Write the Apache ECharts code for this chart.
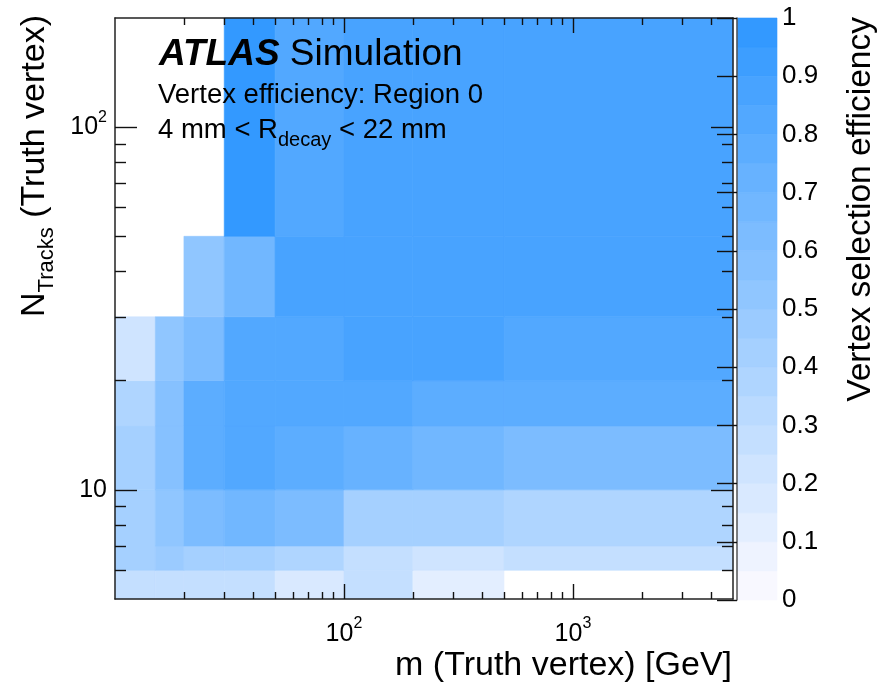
<!DOCTYPE html>
<html>
<head>
<meta charset="utf-8">
<title>Vertex selection efficiency</title>
<script src="https://cdn.jsdelivr.net/npm/echarts@6.0.0/dist/echarts.min.js"></script>
<style>
  html, body { margin: 0; padding: 0; background: #fff; }
  #main { width: 881px; height: 689px; }
</style>
</head>
<body>
<div id="main"></div>
<script>
// bin edges of the histogram
var massEdges = [10, 15, 20, 30, 50, 100, 200, 500, 5000];
var trackEdges = [5, 6, 7, 10, 15, 20, 30, 50, 200];

// efficiency per N_tracks bin (bottom to top), one value per mass bin, null = empty bin
var eff_5_6    = [0.275, 0.275, 0.275, 0.275, 0.175, 0.275, 0.125, null];
var eff_6_7    = [0.425, 0.475, 0.425, 0.425, 0.375, 0.275, 0.225, 0.275];
var eff_7_10   = [0.425, 0.525, 0.625, 0.675, 0.625, 0.425, 0.425, 0.375];
var eff_10_15  = [0.425, 0.575, 0.775, 0.825, 0.775, 0.725, 0.675, 0.625];
var eff_15_20  = [0.375, 0.575, 0.775, 0.825, 0.825, 0.825, 0.775, 0.775];
var eff_20_30  = [0.225, 0.525, 0.625, 0.825, 0.825, 0.875, 0.875, 0.825];
var eff_30_50  = [null, null, 0.525, 0.675, 0.875, 0.875, 0.875, 0.875];
var eff_50_200 = [null, null, null, 0.975, 0.825, 0.875, 0.875, 0.875];
var effRows = [eff_5_6, eff_6_7, eff_7_10, eff_10_15, eff_15_20, eff_20_30, eff_30_50, eff_50_200];

// axis ticks
var massMajorTicks = [100, 1000];
var massMinorTicks = [20, 30, 40, 50, 60, 70, 80, 90, 200, 300, 400, 500, 600, 700, 800, 900, 2000, 3000, 4000];
var trackMajorTicks = [10, 100];
var trackMinorTicks = [6, 7, 8, 9, 20, 30, 40, 50, 60, 70, 80, 90];

// colour levels of the palette (z axis)
var colorLevels = [0, 0.05, 0.1, 0.15, 0.2, 0.25, 0.3, 0.35, 0.4, 0.45, 0.5,
                   0.55, 0.6, 0.65, 0.7, 0.75, 0.8, 0.85, 0.9, 0.95, 1];

var fontName = 'Liberation Sans';

var cells = [];
for (var j = 0; j < effRows.length; j++) {
	for (var i = 0; i < effRows[j].length; i++) {
		if (effRows[j][i] === null) continue;
		cells.push([massEdges[i], trackEdges[j], massEdges[i + 1], trackEdges[j + 1], effRows[j][i]]);
	}
}

var bands = [];
var pieces = [];
for (var k = 0; k < colorLevels.length - 1; k++) {
	var lo = colorLevels[k], hi = colorLevels[k + 1];
	bands.push([0, lo, 1, hi, (lo + hi) / 2]);
	if (k === colorLevels.length - 2) {
		pieces.push({ gte: lo, lte: hi });
	} else {
		pieces.push({ gte: lo, lt: hi });
	}
}

var renderBox = function(params, api) {
	var p0 = api.coord([api.value(0), api.value(1)]);
	var p1 = api.coord([api.value(2), api.value(3)]);
	var c = api.visual('color');
	return {
		type: 'rect',
		shape: { x: p0[0], y: p1[1], width: p1[0] - p0[0], height: p0[1] - p1[1] },
		style: { fill: c, stroke: c, lineWidth: 0.6 }
	};
};

var powLabel = function(v) {
	var e = Math.round(Math.log10(v));
	return e === 1 ? '10' : '10{sup|' + e + '}';
};

var frameLine = { show: true, onZero: false, lineStyle: { color: '#222', width: 1.5 } };
var tickLine = { color: '#111', width: 1.4 };
var labelStyle = {
	fontFamily: fontName, fontSize: 25, color: '#000', lineHeight: 36,
	formatter: powLabel,
	rich: { sup: { fontFamily: fontName, fontSize: 16, lineHeight: 22, verticalAlign: 'top', color: '#000' } }
};

// one axis per tick set: ROOT style major + minor ticks on all four sides
var logAxis = function(pos, ticks, len, withLine, withLabels, min, max, margin) {
	var axis = {
		type: 'log', logBase: 10, gridIndex: 0, position: pos, min: min, max: max, z: 10,
		axisLine: withLine ? frameLine : { show: false },
		axisTick: { show: true, inside: true, length: len, customValues: ticks, lineStyle: tickLine },
		axisLabel: { show: false },
		splitLine: { show: false },
		minorTick: { show: false },
		minorSplitLine: { show: false }
	};
	if (withLabels) {
		axis.axisLabel = Object.assign({ show: true, margin: margin, customValues: ticks }, labelStyle);
	}
	return axis;
};

var myChart = echarts.init(document.getElementById('main'), null, { renderer: 'canvas' });

var option = {
	backgroundColor: '#fff',
	animation: false,
	grid: [
		{ left: 115, top: 18, width: 618, height: 581, outerBoundsMode: 'none', containLabel: false },
		{ left: 737, top: 18, width: 40, height: 582, outerBoundsMode: 'none', containLabel: false }
	],
	xAxis: [
		logAxis('bottom', massMajorTicks, 15, true, true, 10, 5000, 17),
		logAxis('bottom', massMinorTicks, 7, false, false, 10, 5000),
		logAxis('top', massMajorTicks, 15, true, false, 10, 5000),
		logAxis('top', massMinorTicks, 7, false, false, 10, 5000),
		{ type: 'value', gridIndex: 1, min: 0, max: 1, show: false }
	],
	yAxis: [
		logAxis('left', trackMajorTicks, 22, true, true, 5, 200, 8),
		logAxis('left', trackMinorTicks, 11, false, false, 5, 200),
		logAxis('right', trackMajorTicks, 22, true, false, 5, 200),
		logAxis('right', trackMinorTicks, 11, false, false, 5, 200),
		{
			type: 'value', gridIndex: 1, position: 'right', min: 0, max: 1, interval: 0.1, z: 10,
			axisLine: { show: true, lineStyle: { color: '#555', width: 1.5 } },
			axisTick: { show: true, inside: true, length: 20, lineStyle: tickLine },
			axisLabel: { show: true, margin: 5, fontFamily: fontName, fontSize: 26, color: '#000',
				showMinLabel: true, showMaxLabel: true },
			splitLine: { show: false }
		}
	],
	visualMap: {
		type: 'piecewise',
		show: false,
		dimension: 4,
		seriesIndex: [0, 1],
		pieces: pieces,
		inRange: { color: ['#f8f8ff', '#3399ff'] }
	},
	series: [
		{
			type: 'custom',
			name: 'efficiency',
			xAxisIndex: 0,
			yAxisIndex: 0,
			encode: { x: [0, 2], y: [1, 3] },
			renderItem: renderBox,
			data: cells,
			z: 1
		},
		{
			type: 'custom',
			name: 'palette',
			xAxisIndex: 4,
			yAxisIndex: 4,
			encode: { x: [0, 2], y: [1, 3] },
			renderItem: renderBox,
			data: bands,
			z: 1
		}
	],
	graphic: [
		{
			type: 'text', x: 159, y: 54.5, z: 100,
			style: {
				text: '{a|ATLAS} Simulation',
				fontFamily: fontName, fontSize: 37, fill: '#000',
				align: 'left', verticalAlign: 'middle',
				rich: { a: { fontFamily: fontName, fontSize: 37, fontStyle: 'italic', fontWeight: 'bold', fill: '#000' } }
			}
		},
		{
			type: 'text', x: 158, y: 95, z: 100,
			style: {
				text: 'Vertex efficiency: Region 0',
				fontFamily: fontName, fontSize: 27.5, fill: '#000',
				align: 'left', verticalAlign: 'middle'
			}
		},
		{
			type: 'text', x: 158, y: 130.6, z: 100,
			style: {
				text: '4 mm < R{sub|decay} < 22 mm',
				fontFamily: fontName, fontSize: 27.5, lineHeight: 40, fill: '#000',
				align: 'left', verticalAlign: 'middle',
				rich: { sub: { fontFamily: fontName, fontSize: 20, lineHeight: 25, verticalAlign: 'bottom', fill: '#000' } }
			}
		},
		{
			type: 'text', x: 732, y: 665.2, z: 100,
			style: {
				text: 'm (Truth vertex) [GeV]',
				fontFamily: fontName, fontSize: 34, fill: '#000',
				align: 'right', verticalAlign: 'middle'
			}
		},
		{
			type: 'text', x: 35, y: 15, rotation: Math.PI / 2, z: 100,
			style: {
				text: 'N{sub|Tracks} (Truth vertex)',
				fontFamily: fontName, fontSize: 34, lineHeight: 46, fill: '#000',
				align: 'right', verticalAlign: 'middle',
				rich: { sub: { fontFamily: fontName, fontSize: 22, lineHeight: 22, verticalAlign: 'bottom', fill: '#000' } }
			}
		},
		{
			type: 'text', x: 860.6, y: 17, rotation: Math.PI / 2, z: 100,
			style: {
				text: 'Vertex selection efficiency',
				fontFamily: fontName, fontSize: 33.5, fill: '#000',
				align: 'right', verticalAlign: 'middle'
			}
		}
	]
};

myChart.setOption(option);
</script>
</body>
</html>
